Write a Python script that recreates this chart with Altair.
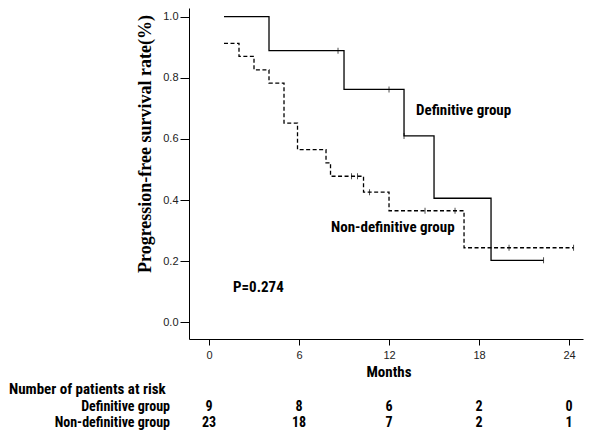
import altair as alt
import pandas as pd

# ---- data ----
def_times = [1.0, 4.0, 9.0, 13.0, 15.0, 18.8, 22.3]
def_surv = [1.0, 0.889, 0.762, 0.610, 0.406, 0.203, 0.203]
def_cens_t = [8.6, 12.0, 13.0, 22.3]
def_cens_s = [0.889, 0.762, 0.610, 0.203]

non_times = [1.0, 2.0, 3.0, 4.0, 5.0, 5.9, 7.8, 8.1, 10.3, 12.0, 17.0, 24.3]
non_surv = [0.913, 0.870, 0.826, 0.783, 0.652, 0.565, 0.522, 0.478, 0.426, 0.365, 0.244, 0.244]
non_cens_t = [9.5, 9.9, 10.7, 14.4, 16.4, 20.0, 24.3]
non_cens_s = [0.478, 0.478, 0.426, 0.365, 0.365, 0.244, 0.244]

risk_months = [0, 6, 12, 18, 24]
risk_def = [9, 8, 6, 2, 0]
risk_non = [23, 18, 7, 2, 1]

x_ticks = [0, 6, 12, 18, 24]
y_ticks = [0.0, 0.2, 0.4, 0.6, 0.8, 1.0]

NARROW = "Liberation Sans Narrow, Arial Narrow, Roboto Condensed, Liberation Sans"
FS = 15
FS_TAB = 14

curves = pd.DataFrame(
    {"t": def_times + non_times,
     "s": def_surv + non_surv,
     "g": ["Definitive"] * len(def_times) + ["Non-definitive"] * len(non_times)}
)
cens = pd.DataFrame(
    {"t": def_cens_t + non_cens_t,
     "s": def_cens_s + non_cens_s}
)
risk = pd.DataFrame(
    {"m": risk_months + risk_months,
     "n": [str(v) for v in risk_def] + [str(v) for v in risk_non],
     "row": ["d"] * 5 + ["n"] * 5}
)

xs = alt.Scale(domain=[-1.333, 24.93], nice=False, zero=False)
ys = alt.Scale(domain=[-0.0546, 1.0285], nice=False, zero=False)

xax = alt.Axis(values=x_ticks, grid=False, domainColor="black", tickColor="black",
               tickSize=6, labelFont="Liberation Sans", labelFontSize=11,
               labelColor="#222", labelPadding=4, title=None)
yax = alt.Axis(values=y_ticks, format=".1f", grid=False, domainColor="black",
               tickColor="black", tickSize=9, labelFont="Liberation Sans",
               labelFontSize=11, labelColor="#222", labelPadding=2, title=None)

X = alt.X("t:Q", scale=xs, axis=xax)
Y = alt.Y("s:Q", scale=ys, axis=yax)

lines = alt.Chart(curves).mark_line(interpolate="step-after", color="black",
                                     strokeWidth=1.3).encode(
    x=X, y=Y,
    strokeDash=alt.StrokeDash("g:N", scale=alt.Scale(
        domain=["Definitive", "Non-definitive"], range=[[1, 0], [4, 2.5]]), legend=None),
    detail="g:N",
)

ticks = alt.Chart(cens).mark_tick(orient="vertical", color="black", size=6,
                                  thickness=1).encode(x="t:Q", y="s:Q")


def label(txt, px, py, size=FS, align="left", font=NARROW, angle=None, weight="bold"):
    kw = dict(text=txt, align=align, baseline="middle", font=font,
              fontSize=size, fontWeight=weight, color="black")
    if angle is not None:
        kw["angle"] = angle
    return alt.Chart(pd.DataFrame({"a": [0]})).mark_text(**kw).encode(
        x=alt.value(px), y=alt.value(py))


# page coords -> plot coords: x - 189, y - 8
texts = [
    label("Definitive group", 416 - 189, 110 - 8),
    label("Non-definitive group", 331 - 189, 227 - 8),
    label("P=0.274", 233 - 189, 287 - 8),
    label("Months", 389 - 189, 372 - 8, align="center"),
    label("Number of  patients at risk", 9 - 189, 389 - 8),
    label("Definitive group", 170 - 189, 407 - 8, size=FS_TAB, align="right"),
    label("Non-definitive group", 170 - 189, 423 - 8, size=FS_TAB, align="right"),
    label("Progression-free survival rate(%)", 146 - 189, 144 - 8, size=18,
          align="center", font="Liberation Serif, Times New Roman, serif", angle=270),
]

risk_d = alt.Chart(risk).transform_filter("datum.row == 'd'").mark_text(
    font=NARROW, fontSize=FS_TAB, fontWeight="bold", color="black", baseline="middle"
).encode(x=alt.X("m:Q", scale=xs), y=alt.value(407 - 8), text="n:N")
risk_n = alt.Chart(risk).transform_filter("datum.row == 'n'").mark_text(
    font=NARROW, fontSize=FS_TAB, fontWeight="bold", color="black", baseline="middle"
).encode(x=alt.X("m:Q", scale=xs), y=alt.value(423 - 8), text="n:N")

chart = alt.layer(lines, ticks, risk_d, risk_n, *texts).properties(
    width=394, height=331,
    autosize=alt.AutoSizeParams(type="none"),
    padding={"left": 181, "top": 0, "right": 8, "bottom": 92},
    background="white",
).configure_view(stroke=None)

chart.save("out.html", embed_options={"renderer": "svg", "actions": False})
